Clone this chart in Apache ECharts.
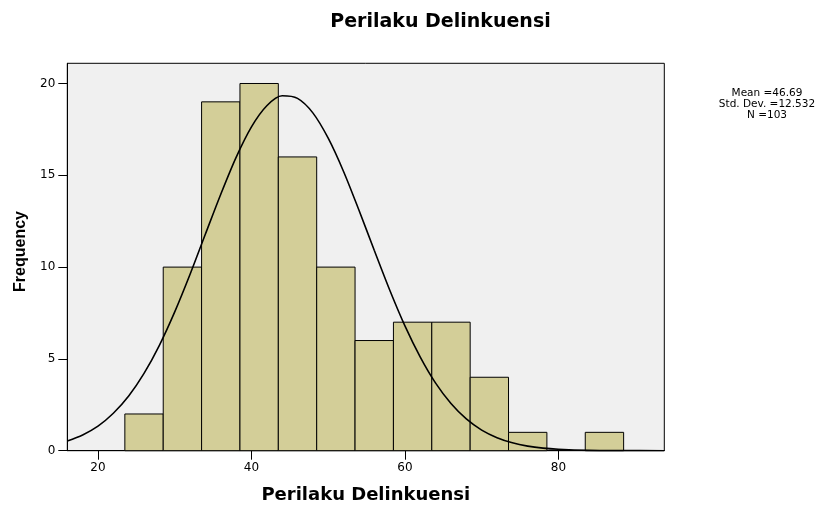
<!DOCTYPE html>
<html>
<head>
<meta charset="utf-8">
<script src="https://cdn.jsdelivr.net/npm/echarts@6/dist/echarts.min.js"></script>
<style>html,body{margin:0;padding:0;background:#fff}#chart{width:838px;height:506px}</style>
</head>
<body>
<div id="chart"></div>
<script>
// Histogram bins (lower edge, upper edge) and frequencies
const binStart = [23.5, 28.5, 33.5, 38.5, 43.5, 48.5, 53.5, 58.5, 63.5, 68.5, 73.5, 78.5, 83.5];
const binEnd   = [28.5, 33.5, 38.5, 43.5, 48.5, 53.5, 58.5, 63.5, 68.5, 73.5, 78.5, 83.5, 88.5];
const counts   = [2, 10, 19, 20, 16, 10, 6, 7, 7, 4, 1, 0, 1];

// Normal curve points
const curveX = [16, 18, 20, 22, 24, 26, 28, 30, 32, 34, 36, 38, 40, 42, 44, 46, 48, 50, 52, 54, 56, 58, 60, 62, 64, 66, 68, 70, 72, 74, 76, 78, 80, 84, 88, 93.8];
const curveY = [0.53, 0.86, 1.34, 2.04, 2.98, 4.21, 5.74, 7.56, 9.61, 11.8, 13.97, 15.98, 17.64, 18.79, 19.33, 19.19, 18.4, 17.02, 15.21, 13.11, 10.92, 8.77, 6.8, 5.1, 3.68, 2.57, 1.73, 1.12, 0.71, 0.43, 0.25, 0.14, 0.08, 0.02, 0.005, 0.0];

const xTicks = [20, 40, 60, 80];
const yTicks = [0, 5, 10, 15, 20];

const titleText = 'Perilaku Delinkuensi';
const xName = 'Perilaku Delinkuensi';
const yName = 'Frequency';
const statsLines = ['Mean =46.69', 'Std. Dev. =12.532', 'N =103'];

const histData = binStart.map((s, i) => [s, binEnd[i], counts[i]]);
const curveData = curveX.map((x, i) => [x, curveY[i]]);

const chart = echarts.init(document.getElementById('chart'), null, {renderer: 'canvas'});
chart.setOption({
  animation: false,
  backgroundColor: '#ffffff',
  title: {
    text: titleText,
    left: 435.5,
    top: 7,
    textAlign: 'center',
    textStyle: {fontFamily: 'DejaVu Sans', fontWeight: 'bold', fontSize: 19, color: '#000', lineHeight: 21}
  },
  graphic: [{
    type: 'text',
    x: 767,
    y: 88,
    style: {
      text: statsLines.join('\n'),
      fontFamily: 'DejaVu Sans',
      fontSize: 10.5,
      lineHeight: 10.8,
      fill: '#000',
      align: 'center',
      verticalAlign: 'top'
    }
  }],
  grid: {
    left: 67.3, right: 173.7, top: 63.3, bottom: 55.3,
    containLabel: false,
    outerBoundsMode: 'none',
    show: true, backgroundColor: '#f0f0f0', borderColor: '#000', borderWidth: 1
  },
  xAxis: {
    type: 'value',
    min: 16, max: 93.8,
    name: xName,
    nameLocation: 'middle',
    nameGap: 36,
    nameTextStyle: {fontFamily: 'DejaVu Sans', fontWeight: 'bold', fontSize: 18, color: '#000'},
    axisLine: {show: true, onZero: false, lineStyle: {color: '#000', width: 1}},
    axisTick: {show: true, length: 9, customValues: xTicks, lineStyle: {color: '#000', width: 1}},
    axisLabel: {customValues: xTicks, margin: 11, fontFamily: 'DejaVu Sans', fontSize: 12, color: '#000'},
    splitLine: {show: false}
  },
  yAxis: {
    type: 'value',
    min: 0, max: 21.1,
    name: yName,
    nameLocation: 'middle',
    nameGap: 39,
    nameRotate: 90,
    nameTextStyle: {fontFamily: 'Liberation Sans', fontWeight: 'bold', fontSize: 16, color: '#000', padding: [0, 0, 0, 11]},
    axisLine: {show: true, lineStyle: {color: '#000', width: 1}},
    axisTick: {show: true, length: 9, customValues: yTicks, lineStyle: {color: '#000', width: 1}},
    axisLabel: {customValues: yTicks, margin: 12, fontFamily: 'DejaVu Sans', fontSize: 12, color: '#000'},
    splitLine: {show: false}
  },
  series: [{
    type: 'custom',
    data: histData,
    encode: {x: [0, 1], y: 2},
    z: 2,
    renderItem: function (params, api) {
      const c = api.value(2);
      if (!c) return null;
      const p0 = api.coord([api.value(0), 0]);
      const p1 = api.coord([api.value(1), c]);
      return {
        type: 'rect',
        shape: {x: p0[0], y: p1[1], width: p1[0] - p0[0], height: p0[1] - p1[1]},
        style: {fill: '#d3ce98', stroke: '#000', lineWidth: 1}
      };
    }
  }, {
    type: 'line',
    data: curveData,
    smooth: 0.3,
    showSymbol: false,
    symbol: 'none',
    z: 3,
    lineStyle: {color: '#000', width: 1.6},
    clip: true
  }]
});
</script>
</body>
</html>
